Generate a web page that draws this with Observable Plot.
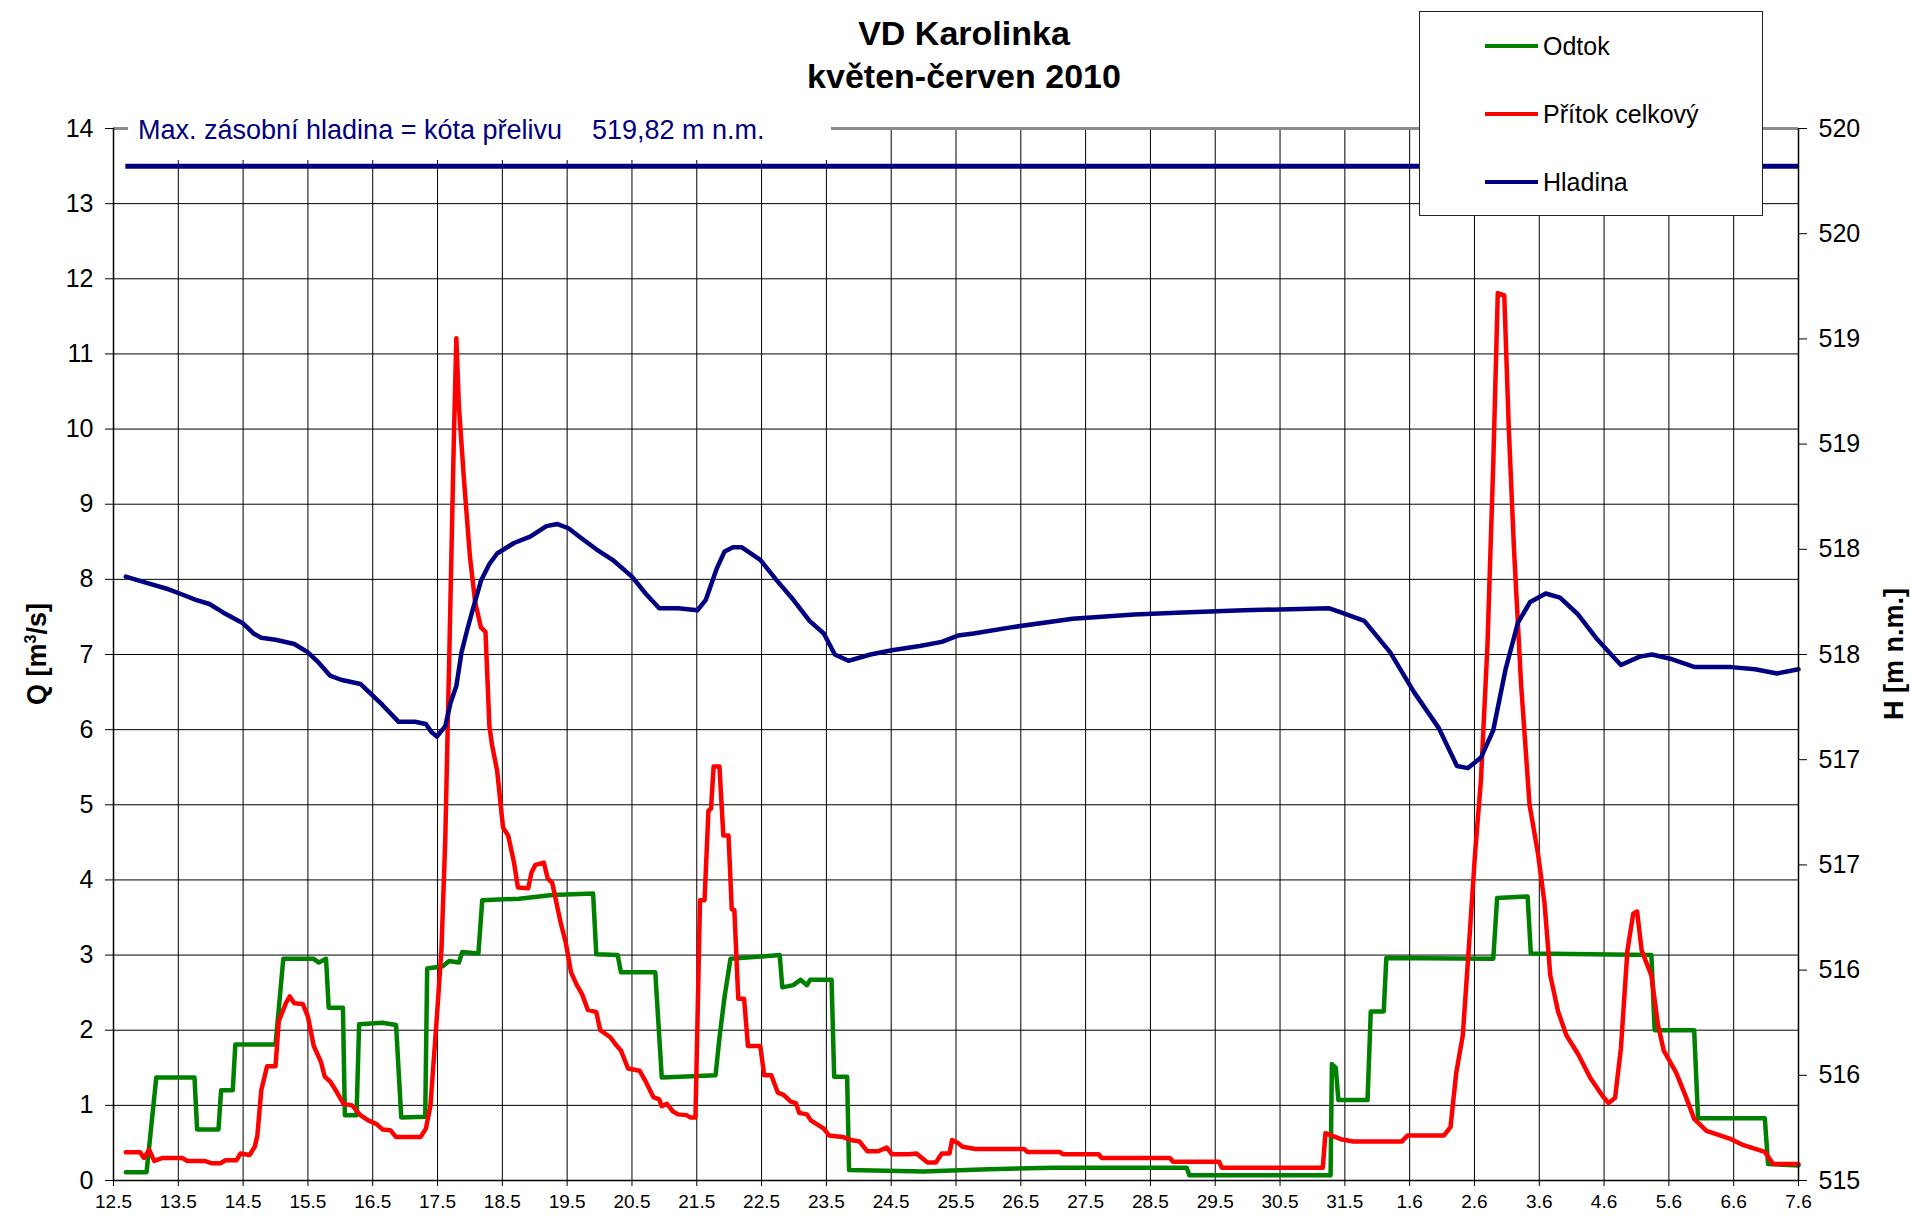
<!DOCTYPE html>
<html><head><meta charset="utf-8">
<script src="https://cdn.jsdelivr.net/npm/d3@7"></script>
<script src="https://cdn.jsdelivr.net/npm/@observablehq/plot@0.6"></script>
<style>
body{margin:0;background:#fff;font-family:"Liberation Sans",Arial,sans-serif;}
#wrap{position:relative;width:1910px;height:1221px;overflow:hidden;background:#fff;}
#chart{position:absolute;left:0;top:0;}
#title{position:absolute;left:0;top:12px;width:1928px;text-align:center;font-weight:bold;font-size:34px;line-height:43px;color:#000;}
#note{position:absolute;left:128px;top:110px;width:703px;height:50px;background:#fff;color:#000080;font-size:27px;line-height:40px;padding-left:10px;box-sizing:border-box;white-space:pre;}
#legend{position:absolute;left:1419px;top:11px;width:344px;height:205px;border:1px solid #222;background:#fff;box-sizing:border-box;}
.li{position:absolute;left:0;width:340px;height:30px;}
.sw{position:absolute;left:65px;top:13px;width:53px;height:4px;}
.lt{position:absolute;left:123px;top:0;font-size:25px;line-height:30px;color:#000;}
.ax{position:absolute;width:300px;height:40px;line-height:40px;text-align:center;font-weight:bold;font-size:27px;transform:rotate(-90deg);color:#000;}
</style></head>
<body>
<div id="wrap">
  <div id="chart"></div>
  <div id="title"></div>
  <div id="note"></div>
  <div id="legend"></div>
  <div class="ax" id="qlab" style="left:-119px;top:634px;">Q [m<sup style="font-size:16px;">3</sup>/s]</div>
  <div class="ax" id="hlab" style="left:1744px;top:634px;"></div>
</div>
<script>
// ---- texts ----
const titleLines = ["VD Karolinka", "květen-červen 2010"];
const noteText = "Max. zásobní hladina = kóta přelivu    519,82 m n.m.";
const hAxisTitle = "H [m n.m.]";
const seriesNames = ["Odtok", "Přítok celkový", "Hladina"];
const seriesColors = ["#008000", "#ff0000", "#000080"];

// ---- axes ----
const dayLabels = ["12.5","13.5","14.5","15.5","16.5","17.5","18.5","19.5","20.5","21.5","22.5","23.5","24.5","25.5","26.5","27.5","28.5","29.5","30.5","31.5","1.6","2.6","3.6","4.6","5.6","6.6","7.6"];
const qTicks = [0,1,2,3,4,5,6,7,8,9,10,11,12,13,14];
const hTicks = [515,515.5,516,516.5,517,517.5,518,518.5,519,519.5,520];
const hLabels = ["515","516","516","517","517","518","518","519","519","520","520"];
const maxLevel = 519.82; // m n.m.

// ---- data: [days since 12.5.2010 00:00, value] ----
const odtok = [[0.19,0.11],[0.51,0.11],[0.66,1.37],[1.25,1.37],[1.29,0.68],[1.62,0.68],[1.66,1.2],[1.84,1.2],[1.88,1.81],[2.50,1.81],[2.62,2.95],[3.09,2.95],[3.17,2.9],[3.28,2.95],[3.32,2.3],[3.54,2.3],[3.57,0.87],[3.75,0.87],[3.79,2.08],[4.15,2.1],[4.36,2.07],[4.44,0.84],[4.81,0.85],[4.84,2.82],[5.08,2.85],[5.18,2.92],[5.33,2.9],[5.38,3.04],[5.63,3.02],[5.69,3.73],[6.26,3.75],[6.77,3.8],[7.40,3.82],[7.45,3.01],[7.78,3.0],[7.83,2.77],[8.36,2.77],[8.46,1.37],[9.29,1.4],[9.35,1.9],[9.43,2.45],[9.52,2.95],[10.28,3.0],[10.32,2.57],[10.49,2.6],[10.60,2.67],[10.70,2.6],[10.75,2.67],[11.08,2.67],[11.12,1.38],[11.32,1.38],[11.35,0.14],[12.5,0.12],[13.5,0.15],[14.5,0.17],[16.56,0.17],[16.6,0.07],[18.78,0.07],[18.8,1.55],[18.86,1.5],[18.9,1.07],[19.35,1.07],[19.4,2.25],[19.6,2.25],[19.64,2.96],[21.29,2.95],[21.35,3.76],[21.82,3.78],[21.87,3.02],[23.73,3.0],[23.78,2.0],[24.39,2.0],[24.45,0.83],[25.48,0.83],[25.53,0.22],[26.0,0.2]];

const pritok = [[0.19,0.375],[0.41,0.375],[0.47,0.30],[0.55,0.41],[0.63,0.26],[0.76,0.30],[1.06,0.30],[1.14,0.26],[1.40,0.26],[1.51,0.23],[1.65,0.23],[1.73,0.27],[1.90,0.27],[1.96,0.36],[2.10,0.34],[2.18,0.45],[2.22,0.6],[2.28,1.2],[2.37,1.52],[2.50,1.52],[2.55,2.12],[2.66,2.36],[2.72,2.45],[2.79,2.36],[2.92,2.35],[3.00,2.18],[3.09,1.79],[3.20,1.58],[3.26,1.38],[3.34,1.32],[3.43,1.2],[3.55,1.02],[3.68,1.0],[3.81,0.87],[3.93,0.8],[4.06,0.75],[4.15,0.68],[4.27,0.67],[4.36,0.58],[4.74,0.58],[4.82,0.69],[4.89,0.99],[4.99,2.18],[5.06,3.07],[5.12,4.56],[5.18,6.94],[5.25,9.8],[5.29,11.21],[5.33,10.3],[5.41,9.3],[5.50,8.3],[5.58,7.7],[5.67,7.36],[5.74,7.3],[5.80,6.05],[5.84,5.8],[5.92,5.45],[6.01,4.7],[6.09,4.59],[6.18,4.23],[6.24,3.9],[6.40,3.89],[6.45,4.1],[6.51,4.2],[6.64,4.23],[6.70,4.02],[6.77,3.96],[6.90,3.43],[6.98,3.16],[7.06,2.77],[7.15,2.6],[7.23,2.48],[7.32,2.27],[7.45,2.24],[7.51,2.0],[7.66,1.91],[7.74,1.82],[7.83,1.73],[7.94,1.49],[8.12,1.46],[8.21,1.32],[8.33,1.11],[8.42,1.08],[8.46,0.99],[8.54,1.02],[8.63,0.92],[8.71,0.88],[8.84,0.87],[8.90,0.84],[8.98,0.84],[9.05,3.73],[9.12,3.73],[9.18,4.92],[9.22,4.95],[9.26,5.51],[9.35,5.51],[9.41,4.59],[9.49,4.59],[9.54,3.61],[9.58,3.6],[9.64,2.42],[9.73,2.42],[9.79,1.79],[9.98,1.79],[10.04,1.4],[10.15,1.4],[10.25,1.17],[10.34,1.14],[10.45,1.05],[10.53,1.03],[10.58,0.9],[10.70,0.88],[10.76,0.8],[10.87,0.74],[10.96,0.69],[11.04,0.6],[11.25,0.58],[11.38,0.54],[11.51,0.52],[11.63,0.39],[11.80,0.39],[11.93,0.44],[12.01,0.35],[12.27,0.35],[12.39,0.36],[12.56,0.24],[12.69,0.24],[12.78,0.36],[12.90,0.36],[12.94,0.54],[13.03,0.5],[13.10,0.45],[13.3,0.42],[14.05,0.42],[14.1,0.38],[14.6,0.38],[14.65,0.35],[15.2,0.35],[15.25,0.3],[16.3,0.3],[16.35,0.25],[17.06,0.25],[17.1,0.17],[18.66,0.17],[18.7,0.63],[18.94,0.55],[19.13,0.52],[19.88,0.52],[19.97,0.6],[20.53,0.6],[20.63,0.71],[20.72,1.44],[20.82,1.93],[20.91,3.06],[21.01,4.36],[21.10,5.33],[21.20,7.11],[21.29,9.54],[21.36,11.81],[21.46,11.78],[21.53,10.0],[21.61,8.4],[21.72,6.6],[21.85,5.0],[21.98,4.35],[22.08,3.7],[22.17,2.73],[22.29,2.25],[22.42,1.93],[22.60,1.68],[22.79,1.36],[22.98,1.12],[23.07,1.03],[23.17,1.1],[23.26,1.76],[23.36,3.06],[23.45,3.55],[23.51,3.58],[23.58,3.06],[23.73,2.73],[23.83,2.08],[23.92,1.73],[24.11,1.44],[24.26,1.12],[24.39,0.82],[24.58,0.66],[24.96,0.55],[25.15,0.47],[25.48,0.38],[25.61,0.22],[26.0,0.22]];

const hladina = [[0.19,517.87],[0.51,517.84],[0.85,517.81],[1.02,517.79],[1.27,517.76],[1.48,517.74],[1.69,517.70],[1.99,517.65],[2.16,517.60],[2.28,517.58],[2.50,517.57],[2.79,517.55],[3.00,517.51],[3.17,517.46],[3.34,517.40],[3.51,517.38],[3.81,517.36],[3.98,517.31],[4.15,517.26],[4.40,517.18],[4.65,517.18],[4.82,517.17],[4.91,517.13],[4.99,517.11],[5.12,517.16],[5.20,517.27],[5.29,517.35],[5.37,517.51],[5.46,517.62],[5.54,517.71],[5.67,517.85],[5.80,517.93],[5.92,517.98],[6.18,518.03],[6.43,518.06],[6.68,518.11],[6.85,518.12],[7.02,518.10],[7.19,518.06],[7.45,518.00],[7.70,517.95],[8.00,517.87],[8.21,517.79],[8.42,517.72],[8.71,517.72],[9.01,517.71],[9.14,517.76],[9.31,517.91],[9.43,517.99],[9.56,518.01],[9.69,518.01],[9.98,517.95],[10.24,517.85],[10.49,517.76],[10.74,517.66],[10.96,517.60],[11.13,517.50],[11.34,517.47],[11.68,517.50],[12.01,517.52],[12.44,517.54],[12.78,517.56],[13.03,517.59],[13.27,517.60],[13.87,517.63],[14.8,517.67],[15.75,517.69],[16.5,517.70],[17.44,517.71],[18.75,517.72],[18.94,517.70],[19.3,517.66],[19.7,517.51],[20.07,517.32],[20.45,517.15],[20.73,516.97],[20.9,516.96],[21.1,517.01],[21.29,517.14],[21.48,517.43],[21.67,517.65],[21.86,517.75],[22.1,517.79],[22.32,517.77],[22.6,517.69],[22.9,517.57],[23.17,517.48],[23.26,517.45],[23.55,517.49],[23.74,517.50],[24.02,517.48],[24.4,517.44],[24.96,517.44],[25.33,517.43],[25.67,517.41],[26.0,517.43]];

// ---- build ----
const t0 = Date.UTC(2010, 4, 12);
const DAY = 864e5;
const toDate = t => new Date(t0 + t * DAY);
const toQ = h => (h - 515) * 14 / 5;
const dayTicks = dayLabels.map((_, i) => new Date(t0 + i * DAY));
const xStart = dayTicks[0], xEnd = dayTicks[dayTicks.length - 1];

document.getElementById("title").innerHTML = titleLines.join("<br>");
document.getElementById("note").textContent = noteText;
document.getElementById("hlab").textContent = hAxisTitle;
const leg = document.getElementById("legend");
[34, 102, 170].forEach((cy, i) => {
  const row = document.createElement("div");
  row.className = "li"; row.style.top = (cy - 15) + "px";
  row.innerHTML = `<div class="sw" style="background:${seriesColors[i]}"></div><div class="lt">${seriesNames[i]}</div>`;
  leg.appendChild(row);
});

const maxRow = [{y: toQ(maxLevel), x1: toDate(hladina[0][0]), x2: toDate(hladina[hladina.length - 1][0])}];

const chart = Plot.plot({
  width: 1910, height: 1221,
  marginLeft: 113, marginRight: 112, marginTop: 128, marginBottom: 41,
  style: {fontFamily: '"Liberation Sans", Arial, sans-serif', background: "transparent", color: "#000", overflow: "visible"},
  x: {type: "utc", domain: [xStart, xEnd]},
  y: {domain: [0, 14]},
  marks: [
    Plot.ruleY(qTicks.slice(1, -1), {stroke: "#000", strokeWidth: 1}),
    Plot.ruleX(dayTicks.slice(1, -1), {stroke: "#000", strokeWidth: 1}),
    Plot.ruleY([14], {stroke: "#8c8c8c", strokeWidth: 3}),
    Plot.axisX({ticks: dayTicks, tickFormat: d => dayLabels[Math.round((d - t0) / DAY)], tickSize: 6, tickPadding: 8, fontSize: 19, label: null}),
    Plot.axisY({ticks: qTicks, tickFormat: d => String(d), tickSize: 8, tickPadding: 12, fontSize: 25, label: null}),
    Plot.axisY({anchor: "right", ticks: hTicks.map(toQ), tickFormat: d => hLabels[Math.round(d / 1.4)], tickSize: 8, tickPadding: 12, fontSize: 25, label: null}),
    Plot.ruleY(maxRow, {y: "y", x1: "x1", x2: "x2", stroke: seriesColors[2], strokeWidth: 5}),
    Plot.line(odtok, {x: d => toDate(d[0]), y: d => d[1], stroke: seriesColors[0], strokeWidth: 4.5}),
    Plot.line(pritok, {x: d => toDate(d[0]), y: d => d[1], stroke: seriesColors[1], strokeWidth: 4.5}),
    Plot.line(hladina, {x: d => toDate(d[0]), y: d => toQ(d[1]), stroke: seriesColors[2], strokeWidth: 4.5}),
    Plot.ruleX([xStart], {stroke: "#000", strokeWidth: 1.5}),
    Plot.ruleX([xEnd], {stroke: "#000", strokeWidth: 1.5}),
    Plot.ruleY([0], {stroke: "#000", strokeWidth: 1.5})
  ]
});
document.getElementById("chart").appendChild(chart);
</script>
</body></html>
